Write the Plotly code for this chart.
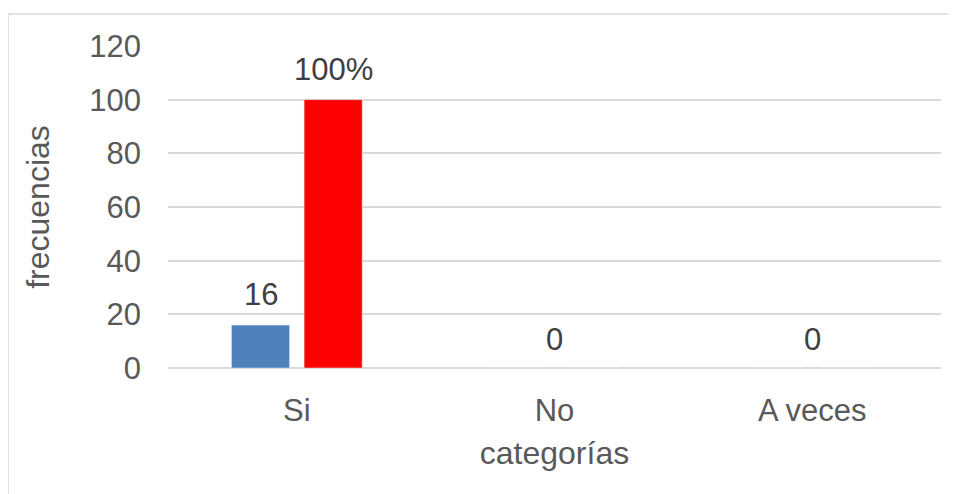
import plotly.graph_objects as go

categories = ["Si", "No", "A veces"]
frecuencias = [16, 0, 0]
porcentajes = [100, 0, 0]
freq_labels = ["16", "0", "0"]
pct_labels = ["100%", "", ""]
y_ticks = [0, 20, 40, 60, 80, 100, 120]

BLUE = "#4f81bd"
RED = "#ff0000"
TXT = "#595959"
LBL = "#404040"
FONT = "Liberation Sans, Arial, sans-serif"
BARGAP = 0.436
GROUPGAP = 0.2

fig = go.Figure()
fig.add_trace(go.Bar(x=categories, y=frecuencias, marker_color=BLUE, name="frecuencias"))
fig.add_trace(go.Bar(x=categories, y=porcentajes, marker_color=RED, name="porcentaje"))

# data labels
slot = (1 - BARGAP) / 2
for i, (c, f, p, fl, pl) in enumerate(zip(categories, frecuencias, porcentajes, freq_labels, pct_labels)):
    if f == 0 and p == 0:
        items = [(i, 0, fl, 9)]
    else:
        items = [(i - slot / 2, f, fl, 11), (i + slot / 2, p, pl, 11)]
    for x, y, t, ys in items:
        if t:
            fig.add_annotation(x=x, y=y, text=t, showarrow=False,
                               yanchor="bottom", yshift=ys,
                               font=dict(size=31, color=LBL, family=FONT))

# chart border
fig.add_shape(type="rect", xref="paper", yref="paper",
              x0=-0.207, x1=1.2, y0=-0.6, y1=1.0994,
              line=dict(color="#d9d9d9", width=1.5), fillcolor="rgba(0,0,0,0)",
              layer="below")

fig.update_layout(
    width=956, height=494,
    margin=dict(l=160, r=23, t=38, b=134),
    paper_bgcolor="white", plot_bgcolor="white",
    barmode="group", bargap=BARGAP, bargroupgap=GROUPGAP,
    showlegend=False,
    font=dict(family=FONT, color=TXT, size=31),
    xaxis=dict(
        title=dict(text="categorías", font=dict(size=32, color=TXT), standoff=14),
        tickfont=dict(size=31, color=TXT), automargin=False,
        showgrid=False, showline=False, ticks="", ticklabelstandoff=21,
    ),
    yaxis=dict(
        title=dict(text="frecuencias", font=dict(size=32, color=TXT), standoff=30),
        range=[0, 120], tickvals=y_ticks, automargin=False,
        tickfont=dict(size=31, color=TXT),
        showgrid=True, gridcolor="#d9d9d9", gridwidth=2,
        zeroline=True, zerolinecolor="#d9d9d9", zerolinewidth=2,
        showline=False, ticks="", ticklabelstandoff=26,
    ),
)

fig.write_html("out.html")
